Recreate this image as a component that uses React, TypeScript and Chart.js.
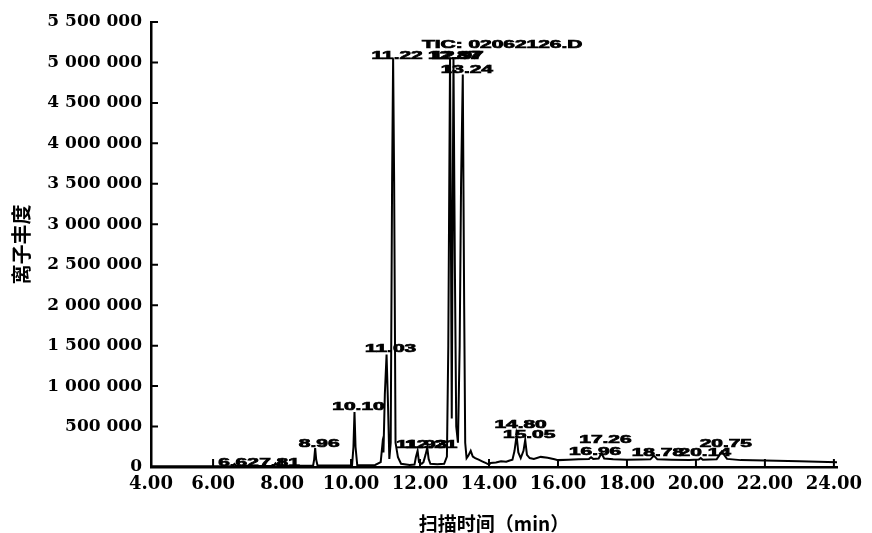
import React, { useEffect, useRef } from "react";
import { Chart, registerables } from "chart.js";

Chart.register(...registerables);

// Total ion chromatogram trace (time in min, abundance)
const traceTime = [
  4.2, 5.0, 6.0, 6.55, 6.62, 6.68, 7.2, 7.75, 7.81, 7.87, 8.5, 8.9, 8.93, 8.96, 8.99, 9.03,
  9.6, 10.03, 10.07, 10.1, 10.13, 10.18, 10.7, 10.86, 10.91, 10.94, 10.98, 11.03, 11.07, 11.11,
  11.15, 11.19, 11.22, 11.25, 11.29, 11.36, 11.45, 11.7, 11.84, 11.88, 11.93, 11.97, 12.05, 12.1,
  12.16, 12.21, 12.25, 12.3, 12.5, 12.7, 12.78, 12.82, 12.87, 12.9, 12.92, 12.94, 12.97, 13.01,
  13.05, 13.1, 13.15, 13.19, 13.24, 13.28, 13.31, 13.35, 13.4, 13.47, 13.53, 13.6, 13.7, 13.8,
  13.9, 14.0, 14.05, 14.2, 14.35, 14.5, 14.6, 14.68, 14.74, 14.8, 14.85, 14.92, 15.0, 15.05,
  15.1, 15.18, 15.3, 15.5, 15.7, 15.9, 16.0, 16.3, 16.6, 16.9, 16.96, 17.02, 17.18, 17.26,
  17.34, 17.6, 18.0, 18.4, 18.68, 18.78, 18.88, 19.3, 19.8, 20.08, 20.14, 20.2, 20.6, 20.75,
  20.9, 21.3, 22.0, 23.0, 24.09,
];
const traceSignal = [
  8000, 9000, 10000, 10000, 38000, 11000, 12000, 13000, 45000, 14000, 15000, 16000, 90000, 235000, 90000, 17000,
  18000, 20000, 250000, 680000, 250000, 22000, 25000, 60000, 280000, 180000, 900000, 1390000, 800000, 100000,
  300000, 3500000, 5050000, 3500000, 300000, 120000, 40000, 25000, 30000, 120000, 200000, 60000, 40000, 60000,
  150000, 240000, 100000, 40000, 35000, 40000, 130000, 1500000, 5050000, 2500000, 600000, 2500000, 5050000, 2500000,
  500000, 300000, 1500000, 3500000, 4850000, 2000000, 300000, 110000, 140000, 200000, 130000, 110000, 90000, 70000,
  50000, 30000, 50000, 55000, 70000, 65000, 80000, 90000, 200000, 390000, 180000, 110000, 200000, 335000,
  150000, 110000, 100000, 125000, 115000, 95000, 85000, 90000, 95000, 100000, 120000, 100000, 105000, 170000,
  105000, 95000, 90000, 92000, 95000, 140000, 95000, 90000, 88000, 92000, 110000, 90000, 95000, 190000,
  100000, 85000, 80000, 70000, 60000,
];

// Peak retention-time labels
const peakLabelText = [
  "6.62", "7.81", "8.96", "10.10", "11.03", "11.22", "11.93", "12.21", "12.87", "12.97",
  "13.24", "14.80", "15.05", "16.96", "17.26", "18.78", "20.14", "20.75",
];
const peakLabelTime = [
  6.62, 7.81, 8.96, 10.1, 11.03, 11.22, 11.93, 12.21, 12.87, 12.97,
  13.24, 14.8, 15.05, 16.96, 17.26, 18.78, 20.14, 20.75,
];
const peakLabelSignal = [
  12000, 12000, 247000, 704000, 1420000, 5040000, 240000, 240000, 5040000, 5040000,
  4870000, 482000, 358000, 148000, 297000, 136000, 136000, 247000,
];

const xTickValues = [4.2, 6, 8, 10, 12, 14, 16, 18, 20, 22, 24];
const xTickLabels = ["4.00", "6.00", "8.00", "10.00", "12.00", "14.00", "16.00", "18.00", "20.00", "22.00", "24.00"];
const yTickValues = [0, 500000, 1000000, 1500000, 2000000, 2500000, 3000000, 3500000, 4000000, 4500000, 5000000, 5500000];

const xAxisTitle = "扫描时间（min）";
const yAxisTitle = "离子丰度";
const ticText = "TIC: 02062126.D";

function formatThousands(v: number): string {
  return String(Math.round(v)).replace(/\B(?=(\d{3})+(?!\d))/g, " ");
}

const inwardTicks = {
  id: "inwardTicks",
  afterDraw(chart: any) {
    const { ctx, chartArea, scales } = chart;
    ctx.save();
    ctx.strokeStyle = "#000";
    ctx.lineWidth = 2;
    ctx.beginPath();
    for (const v of yTickValues) {
      const y = scales.y.getPixelForValue(v);
      ctx.moveTo(chartArea.left, y);
      ctx.lineTo(chartArea.left + 7, y);
    }
    for (const v of xTickValues) {
      const x = scales.x.getPixelForValue(v);
      ctx.moveTo(x, chartArea.bottom);
      ctx.lineTo(x, chartArea.bottom - 8);
    }
    ctx.stroke();
    ctx.restore();
  },
};

const peakLabels = {
  id: "peakLabels",
  afterDatasetsDraw(chart: any) {
    const { ctx, scales, chartArea } = chart;
    ctx.save();
    ctx.fillStyle = "#000";
    ctx.strokeStyle = "#000";
    ctx.lineWidth = 0.7;
    ctx.font = "bold 11px 'Liberation Sans', Arial, sans-serif";
    ctx.textAlign = "center";
    ctx.textBaseline = "alphabetic";
    peakLabelText.forEach((txt, i) => {
      const x = scales.x.getPixelForValue(peakLabelTime[i]) + 4;
      const y = scales.y.getPixelForValue(peakLabelSignal[i]);
      ctx.save();
      ctx.translate(x, y);
      ctx.scale(1.9, 1);
      ctx.fillText(txt, 0, 0);
      ctx.strokeText(txt, 0, 0);
      ctx.restore();
    });
    // TIC file name
    ctx.save();
    ctx.textAlign = "left";
    ctx.translate(chartArea.left + 271, chartArea.top + 26);
    ctx.scale(1.9, 1);
    ctx.fillText(ticText, 0, 0);
    ctx.strokeText(ticText, 0, 0);
    ctx.restore();
    ctx.restore();
  },
};

export default function App() {
  const canvasRef = useRef<HTMLCanvasElement | null>(null);

  useEffect(() => {
    if (!canvasRef.current) return;
    const chart = new Chart(canvasRef.current, {
      type: "line",
      data: {
        datasets: [
          {
            data: traceTime.map((t, i) => ({ x: t, y: traceSignal[i] })),
            borderColor: "#000",
            borderWidth: 2,
            pointRadius: 0,
            tension: 0,
            fill: false,
          },
        ],
      },
      options: {
        animation: false,
        responsive: false,
        events: [],
        layout: { padding: { left: 0, right: 35, top: 22, bottom: 0 } },
        plugins: { legend: { display: false }, tooltip: { enabled: false } },
        scales: {
          x: {
            type: "linear",
            min: 4.2,
            max: 24.09,
            afterBuildTicks: (s: any) => {
              s.ticks = xTickValues.map((v) => ({ value: v }));
            },
            afterFit: (s: any) => {
              s.height = 66;
            },
            grid: { display: false, drawTicks: false },
            border: { display: true, color: "#000", width: 2.5 },
            ticks: {
              autoSkip: false,
              maxRotation: 0,
              padding: 7,
              color: "#000",
              font: { family: "'DejaVu Serif', serif", weight: "bold", size: 18 },
              callback: (_v: any, i: number) => xTickLabels[i],
            },
            title: {
              display: true,
              text: xAxisTitle,
              color: "#000",
              font: { family: "'Noto Sans CJK SC', sans-serif", weight: "bold", size: 19, lineHeight: 1 },
              padding: { top: 0, bottom: 0 },
            },
          },
          y: {
            type: "linear",
            min: 0,
            max: 5500000,
            afterBuildTicks: (s: any) => {
              s.ticks = yTickValues.map((v) => ({ value: v }));
            },
            afterFit: (s: any) => {
              s.width = 151;
            },
            grid: { display: false, drawTicks: false },
            border: { display: true, color: "#000", width: 2.5 },
            ticks: {
              autoSkip: false,
              padding: 9,
              color: "#000",
              font: { family: "'DejaVu Serif', serif", weight: "bold", size: 17 },
              callback: (v: any) => formatThousands(Number(v)),
            },
            title: {
              display: true,
              text: yAxisTitle,
              color: "#000",
              font: { family: "'Noto Sans CJK SC', sans-serif", weight: "bold", size: 20, lineHeight: 1 },
              padding: { top: 11, bottom: 0 },
            },
          },
        },
      },
      plugins: [inwardTicks, peakLabels],
    } as any);
    return () => chart.destroy();
  }, []);

  return (
    <div style={{ position: "fixed", left: 0, top: 0, width: 872, height: 533, background: "#fff" }}>
      <canvas ref={canvasRef} width={872} height={533} />
    </div>
  );
}
